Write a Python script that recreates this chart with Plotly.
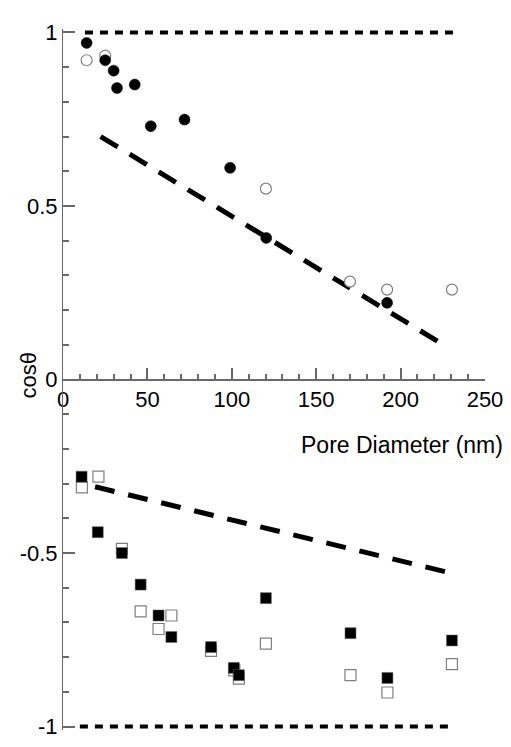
import plotly.graph_objects as go
from plotly.subplots import make_subplots

# ---- data ----
circ_fill_x = [14, 25, 30, 32, 42.5, 52, 72, 99, 120.4, 192]
circ_fill_y = [0.970, 0.920, 0.890, 0.840, 0.850, 0.730, 0.749, 0.610, 0.408, 0.221]

circ_open_x = [14, 25, 120.2, 170, 192, 230.4]
circ_open_y = [0.920, 0.933, 0.550, 0.282, 0.259, 0.259]

sq_fill_x = [11, 20.6, 34.9, 46, 56.6, 64.2, 87.7, 101.2, 104.2, 120.2, 170.3, 192.2, 230.4]
sq_fill_y = [-0.280, -0.440, -0.500, -0.591, -0.680, -0.742, -0.771, -0.831, -0.852, -0.630, -0.731, -0.860, -0.752]

sq_open_x = [11.2, 21, 34.9, 46, 56.6, 64.2, 87.7, 101.5, 104.2, 120.2, 170.3, 192.2, 230.4]
sq_open_y = [-0.311, -0.280, -0.488, -0.668, -0.719, -0.680, -0.782, -0.838, -0.862, -0.761, -0.852, -0.902, -0.820]

top_ref_x = [13, 231]
top_ref_y = [1, 1]
bot_ref_x = [10, 229.5]
bot_ref_y = [-1, -1]

fit_top_x = [22.3, 228.4]
fit_top_y = [0.700, 0.091]
fit_bot_x = [19.0, 226.5]
fit_bot_y = [-0.309, -0.554]

x_major_step = 50
x_minor_step = 10
y_major_step = 0.5
y_minor_step = 0.1
y_bot_tick_vals = [-1, -0.5]
y_bot_tick_text = ["-1", "-0.5"]

FONT = "Liberation Sans, Arial, sans-serif"
AX = "dimgray"
FS = 22

fig = make_subplots(rows=2, cols=1, vertical_spacing=0)

def add(tr, row):
    fig.add_trace(tr, row=row, col=1)

# top panel
add(go.Scatter(x=top_ref_x, y=top_ref_y, mode="lines",
               line=dict(color="black", width=4, dash="8px,7px"), showlegend=False), 1)
add(go.Scatter(x=fit_top_x, y=fit_top_y, mode="lines",
               line=dict(color="black", width=5, dash="20px,14px"), showlegend=False), 1)
add(go.Scatter(x=circ_open_x, y=circ_open_y, mode="markers",
               marker=dict(symbol="circle", size=11, color="white",
                           line=dict(color="gray", width=1.2)), showlegend=False), 1)
add(go.Scatter(x=circ_fill_x, y=circ_fill_y, mode="markers",
               marker=dict(symbol="circle", size=11, color="black",
                           line=dict(color="black", width=0.5)), showlegend=False), 1)

# bottom panel
add(go.Scatter(x=bot_ref_x, y=bot_ref_y, mode="lines",
               line=dict(color="black", width=4, dash="8px,7px"), showlegend=False), 2)
add(go.Scatter(x=fit_bot_x, y=fit_bot_y, mode="lines",
               line=dict(color="black", width=5, dash="20px,14px"), showlegend=False), 2)
add(go.Scatter(x=sq_open_x, y=sq_open_y, mode="markers",
               marker=dict(symbol="square", size=11, color="white",
                           line=dict(color="gray", width=1.2)), showlegend=False), 2)
add(go.Scatter(x=sq_fill_x, y=sq_fill_y, mode="markers",
               marker=dict(symbol="square", size=11, color="black",
                           line=dict(color="dimgray", width=0.5)), showlegend=False), 2)

fig.update_layout(
    width=511, height=747,
    margin=dict(l=51, r=34, t=12, b=14),
    plot_bgcolor="white",
    font=dict(family=FONT, size=FS, color="black"),
)

fig.update_xaxes(ticks="inside", ticklen=12, tickwidth=2, tickcolor=AX,
                 minor=dict(ticks="inside", ticklen=6, tickcolor=AX, dtick=x_minor_step),
                 showgrid=False, zerolinecolor=AX)
fig.update_yaxes(ticks="inside", ticklen=12, tickwidth=2, tickcolor=AX,
                 minor=dict(ticks="inside", ticklen=6, tickcolor=AX, dtick=y_minor_step),
                 showgrid=False, zerolinecolor=AX)

fig.update_xaxes(range=[0, 250], tick0=0, dtick=x_major_step,
                 showline=True, linecolor=AX, row=1, col=1)
fig.update_xaxes(range=[0, 250], visible=False, row=2, col=1)
fig.update_yaxes(domain=[0.5, 1], range=[0, 1.01], tick0=0, dtick=y_major_step,
                 showline=True, linecolor=AX, row=1, col=1)
fig.update_yaxes(domain=[0, 0.5], range=[-1.01, 0], tickmode="array",
                 tickvals=y_bot_tick_vals, ticktext=y_bot_tick_text,
                 showline=True, linecolor=AX, row=2, col=1)

fig.update_layout(
    annotations=[
        dict(text="Pore Diameter (nm)", xref="paper", yref="paper", x=1.047, y=0.4067,
             xanchor="right", yanchor="middle", showarrow=False,
             font=dict(family=FONT, size=23, color="black")),
        dict(text="cosθ", xref="paper", yref="paper", x=-0.0817, y=0.505, textangle=-90,
             xanchor="center", yanchor="middle", showarrow=False,
             font=dict(family=FONT, size=FS, color="black")),
    ],
)

fig.write_html("out.html")
